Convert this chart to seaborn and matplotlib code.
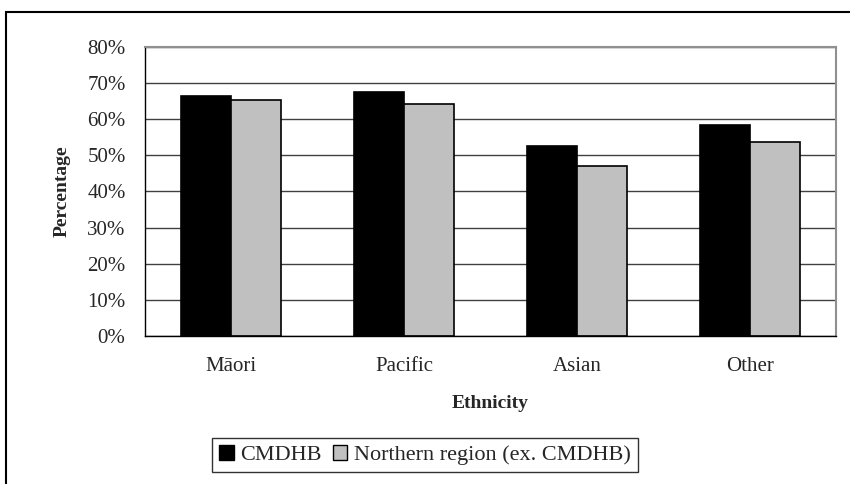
import pandas as pd
import numpy as np
import matplotlib
matplotlib.use('Agg')
import matplotlib.pyplot as plt
import matplotlib.patches as mpatches
import seaborn as sns

# data
ethnicity = ['Māori', 'Pacific', 'Asian', 'Other']
cmdhb = [66.3, 67.5, 52.6, 58.4]
northern = [65.4, 64.1, 47.1, 53.7]
series = ['CMDHB', 'Northern region (ex. CMDHB)']

df = pd.DataFrame({
    'Ethnicity': ethnicity * 2,
    'Percentage': cmdhb + northern,
    'Group': [series[0]] * 4 + [series[1]] * 4,
})

sns.set_style("white")
plt.rcParams['font.family'] = ['Liberation Serif', 'DejaVu Serif']

fig = plt.figure(figsize=(8.5, 4.84), dpi=100)
ax = fig.add_axes([0.1706, 0.3058, 0.8129, 0.5971])

sns.barplot(data=df, x='Ethnicity', y='Percentage', hue='Group', order=ethnicity,
            hue_order=series, palette=['black', '#c0c0c0'], width=0.58, gap=0,
            edgecolor='black', linewidth=1.2, ax=ax, legend=False)

ax.set_ylim(0, 80)
ax.set_xlim(-0.5, 3.5)
ax.set_yticks(np.arange(0, 81, 10))
ax.set_yticklabels([f'{v}%' for v in range(0, 81, 10)], fontsize=15)
ax.yaxis.grid(True, color='#404040', linewidth=1)
ax.set_axisbelow(True)

# ticks on category boundaries, labels in between
ax.set_xticks(np.arange(-0.5, 4, 1))
ax.set_xticklabels([])
ax.set_xticks(range(4), minor=True)
ax.set_xticklabels(ethnicity, minor=True, fontsize=15)
ax.tick_params(axis='x', which='minor', length=0, pad=15)
ax.tick_params(axis='x', which='major', length=6, width=1, color='black', direction='out')
ax.tick_params(axis='y', length=6, width=1, color='black', direction='out', pad=8)

for side in ['left', 'bottom']:
    ax.spines[side].set_color('black')
    ax.spines[side].set_linewidth(1)
for side in ['top', 'right']:
    ax.spines[side].set_color('#909090')
    ax.spines[side].set_linewidth(1.5)

ax.set_xlabel('Ethnicity', fontsize=14, fontweight='bold', labelpad=14)
ax.set_ylabel('Percentage', fontsize=14, fontweight='bold', labelpad=12)

handles = [mpatches.Patch(facecolor='black', edgecolor='black', label=series[0]),
           mpatches.Patch(facecolor='#c0c0c0', edgecolor='black', label=series[1])]
leg = fig.legend(handles=handles, loc='center', bbox_to_anchor=(0.5, 1 - 455 / 484),
                 ncol=2, frameon=True, fancybox=False, fontsize=16,
                 handlelength=0.65, handleheight=0.65, handletextpad=0.3,
                 columnspacing=0.5, borderpad=0.3)
leg.get_frame().set_edgecolor('black')
leg.get_frame().set_linewidth(1)

# outer chart border
fig.patches.append(mpatches.Rectangle((6 / 850, -0.01), 850, 1 - 12 / 484 + 0.01,
                                      transform=fig.transFigure, fill=False,
                                      edgecolor='black', linewidth=1.5))

plt.savefig('out.png', dpi=100)
plt.close()
